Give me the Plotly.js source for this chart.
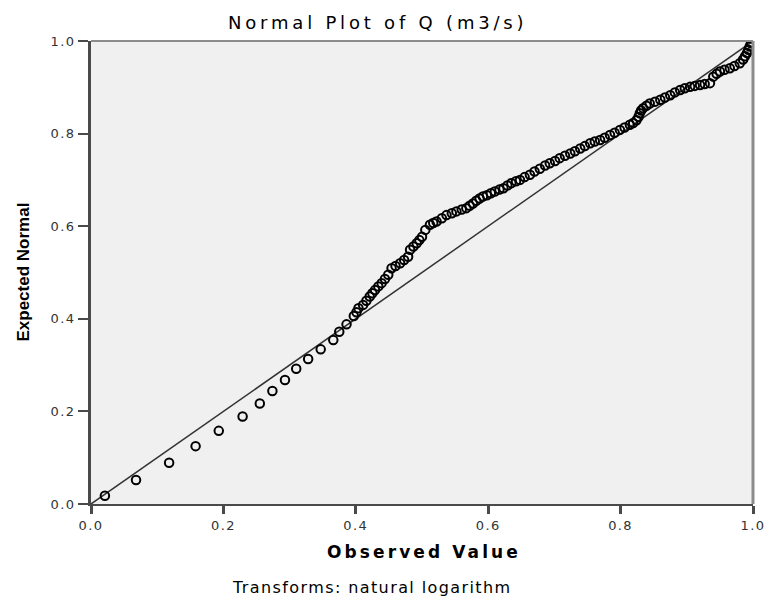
<!DOCTYPE html>
<html>
<head>
<meta charset="utf-8">
<script src="https://cdn.plot.ly/plotly-3.0.1.min.js"></script>
<style>html,body{margin:0;padding:0;background:#fff;}#chart{width:767px;height:598px;}</style>
</head>
<body>
<div id="chart"></div>
<script>
const observed = [
  0.021, 0.068, 0.118, 0.158, 0.193, 0.229, 0.255, 0.274, 0.293, 0.310,
  0.328, 0.347, 0.366, 0.375, 0.386, 0.397, 0.401, 0.404, 0.411, 0.416,
  0.421, 0.425, 0.429, 0.434, 0.439, 0.444, 0.449, 0.454, 0.460, 0.467,
  0.473, 0.479, 0.482, 0.487, 0.492, 0.496, 0.500, 0.505, 0.512, 0.517,
  0.522, 0.530, 0.537, 0.545, 0.552, 0.560, 0.567, 0.572, 0.577, 0.582,
  0.587, 0.592, 0.598, 0.604, 0.610, 0.617, 0.623, 0.629, 0.635, 0.642,
  0.648, 0.655, 0.663, 0.670, 0.678, 0.686, 0.693, 0.701, 0.708, 0.716,
  0.724, 0.731, 0.739, 0.746, 0.754, 0.761, 0.769, 0.776, 0.784, 0.791,
  0.799, 0.806, 0.814, 0.819, 0.824, 0.827, 0.829, 0.831, 0.834, 0.839,
  0.844, 0.852, 0.860, 0.867, 0.875, 0.882, 0.890, 0.897, 0.905, 0.912,
  0.920, 0.927, 0.935, 0.940, 0.945, 0.950, 0.957, 0.965, 0.972, 0.980,
  0.985, 0.988, 0.991, 0.993, 0.995, 0.997
];
// Expected normal (cumulative probability)
const expected = [
  0.018, 0.052, 0.089, 0.125, 0.158, 0.189, 0.217, 0.244, 0.268, 0.292,
  0.313, 0.334, 0.354, 0.372, 0.388, 0.406, 0.414, 0.423, 0.430, 0.439,
  0.448, 0.455, 0.462, 0.470, 0.477, 0.486, 0.495, 0.509, 0.514, 0.520,
  0.527, 0.534, 0.549, 0.556, 0.563, 0.570, 0.577, 0.592, 0.603, 0.607,
  0.610, 0.617, 0.624, 0.628, 0.632, 0.636, 0.639, 0.644, 0.649, 0.655,
  0.660, 0.664, 0.667, 0.671, 0.675, 0.679, 0.682, 0.688, 0.693, 0.697,
  0.700, 0.706, 0.711, 0.718, 0.724, 0.731, 0.736, 0.741, 0.747, 0.752,
  0.757, 0.762, 0.768, 0.773, 0.779, 0.783, 0.786, 0.791, 0.797, 0.802,
  0.808, 0.813, 0.819, 0.823, 0.829, 0.836, 0.844, 0.850, 0.855, 0.860,
  0.865, 0.869, 0.873, 0.878, 0.883, 0.889, 0.894, 0.898, 0.901, 0.903,
  0.905, 0.907, 0.909, 0.923, 0.929, 0.934, 0.938, 0.941, 0.946, 0.952,
  0.960, 0.967, 0.974, 0.981, 0.988, 0.995
];
// Reference diagonal end points
const refLine = [0, 1];
// Tick values and labels
const tickValues = [0, 0.2, 0.4, 0.6, 0.8, 1.0];
const tickLabels = ['0.0', '0.2', '0.4', '0.6', '0.8', '1.0'];

const chartTitle = 'Normal Plot of Q (m3/s)';
const xTitle = 'Observed Value';
const yTitle = 'Expected Normal';
const footNote = 'Transforms: natural logarithm';

const sp = (t, px) => '<span style="letter-spacing:' + px + 'px">' + t + '</span>';
const FONT = '"DejaVu Sans", Verdana, sans-serif';
const NARROW = '"Liberation Sans", Arial, sans-serif';

const traces = [
  {
    x: refLine, y: refLine, mode: 'lines', type: 'scatter',
    line: {color: '#333333', width: 1.5}, hoverinfo: 'skip', showlegend: false
  },
  {
    x: observed, y: expected, mode: 'markers', type: 'scatter',
    marker: {symbol: 'circle-open', size: 8.5, color: '#000000', line: {width: 2, color: '#111111'}},
    showlegend: false
  }
];

const layout = {
  width: 767, height: 598,
  margin: {l: 91, r: 14, t: 41, b: 94, pad: 0},
  paper_bgcolor: '#ffffff',
  plot_bgcolor: '#f0f0f0',
  font: {family: FONT, color: '#000'},
  showlegend: false,
  xaxis: {
    range: [0, 1], tickmode: 'array', tickvals: tickValues,
    ticktext: tickLabels.map(t => sp(t, 1.4)),
    ticks: 'outside', ticklen: 8, tickwidth: 3, tickcolor: '#4a4a4a',
    showline: true, linecolor: '#4a4a4a', linewidth: 2,
    showgrid: false, zeroline: false, fixedrange: true,
    tickfont: {family: FONT, size: 13, color: '#333333'}
  },
  yaxis: {
    range: [0, 1], tickmode: 'array', tickvals: tickValues,
    ticktext: tickLabels.map(t => sp(t, 1.4)),
    ticks: 'outside', ticklen: 10, tickwidth: 2, tickcolor: '#4a4a4a',
    showline: true, linecolor: '#4a4a4a', linewidth: 3,
    showgrid: false, zeroline: false, fixedrange: true,
    tickfont: {family: FONT, size: 13, color: '#333333'}
  },
  shapes: [
    {type: 'line', xref: 'paper', yref: 'paper', x0: 0, x1: 1, y0: 1, y1: 1, line: {color: '#8c8c8c', width: 2}},
    {type: 'line', xref: 'paper', yref: 'paper', x0: 1, x1: 1, y0: 0, y1: 1, line: {color: '#8c8c8c', width: 3}}
  ],
  annotations: [
    {text: sp(chartTitle, 3.8), xref: 'paper', yref: 'paper', x: 0.4326, y: 1.0408,
     xanchor: 'center', yanchor: 'middle', showarrow: false,
     font: {family: FONT, size: 18, color: '#000'}},
    {text: '<b>' + sp(xTitle, 3.1) + '</b>', xref: 'paper', yref: 'paper', x: 0.5025, y: -0.1039,
     xanchor: 'center', yanchor: 'middle', showarrow: false,
     font: {family: FONT, size: 17, color: '#000'}},
    {text: '<b>' + yTitle + '</b>', xref: 'paper', yref: 'paper', x: -0.1027, y: 0.5,
     xanchor: 'center', yanchor: 'middle', textangle: -90, showarrow: false,
     font: {family: NARROW, size: 17, color: '#000'}},
    {text: sp(footNote, 1.4), xref: 'paper', yref: 'paper', x: 0.4245, y: -0.1803,
     xanchor: 'center', yanchor: 'middle', showarrow: false,
     font: {family: FONT, size: 16, color: '#000'}}
  ]
};

Plotly.newPlot('chart', traces, layout, {displayModeBar: false, staticPlot: true});
</script>
</body>
</html>
